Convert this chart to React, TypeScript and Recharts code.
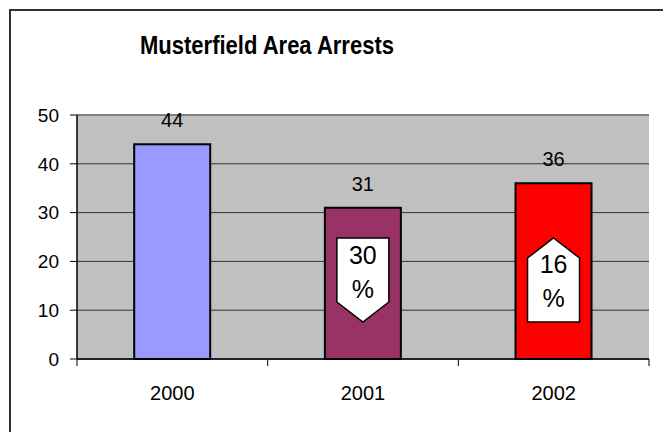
import React from 'react';
import {
  BarChart,
  Bar,
  XAxis,
  YAxis,
  CartesianGrid,
  ReferenceLine,
  LabelList,
  Cell,
  Rectangle,
} from 'recharts';

const years = ['2000', '2001', '2002'];
const arrests = [44, 31, 36];
const changePct: (number | null)[] = [null, 30, 16];
const changeDir: (string | null)[] = [null, 'down', 'up'];
const barColors = ['#9999FF', '#993366', '#FF0000'];
const yTicks = [0, 10, 20, 30, 40, 50];

const data = years.map((year, i) => ({
  year,
  arrests: arrests[i],
  pct: changePct[i],
  dir: changeDir[i],
}));

const FONT = '"Liberation Sans", Arial, sans-serif';

// category label at the centre, tick marks on the category edges (Excel style)
const XTick = (props: any) => {
  const { x, y, payload, index, width, visibleTicksCount } = props;
  const band = width / (visibleTicksCount || years.length);
  const last = index === (visibleTicksCount || years.length) - 1;
  return (
    <g>
      <line x1={x - band / 2} x2={x - band / 2} y1={y} y2={y + 7} stroke="#000" />
      {last && <line x1={x + band / 2} x2={x + band / 2} y1={y} y2={y + 7} stroke="#000" />}
      <text x={x} y={y + 34} textAnchor="middle" dominantBaseline="central" fontSize={20} fontFamily={FONT} fill="#000">
        {payload.value}
      </text>
    </g>
  );
};

// bar + the little arrow-shaped % change callout inside it
const BarWithCallout = (props: any) => {
  const { x, y, width, height, fill, payload } = props;
  const cx = x + width / 2;
  const base = y + height;
  const half = 26;
  let callout = null;
  if (payload && payload.pct != null) {
    let points = '';
    let t1 = 0;
    let t2 = 0;
    if (payload.dir === 'down') {
      points = [
        [cx - half, base - 121],
        [cx + half, base - 121],
        [cx + half, base - 57],
        [cx, base - 37],
        [cx - half, base - 57],
      ]
        .map((p) => p.join(','))
        .join(' ');
      t1 = base - 104;
      t2 = base - 70;
    } else {
      points = [
        [cx, base - 121],
        [cx + half, base - 101],
        [cx + half, base - 37],
        [cx - half, base - 37],
        [cx - half, base - 101],
      ]
        .map((p) => p.join(','))
        .join(' ');
      t1 = base - 95;
      t2 = base - 61;
    }
    callout = (
      <g>
        <polygon points={points} fill="#fff" stroke="#000" strokeWidth={1.5} />
        <text x={cx} y={t1} textAnchor="middle" dominantBaseline="central" fontSize={25} fontFamily={FONT} fill="#000">
          {payload.pct}
        </text>
        <text x={cx} y={t2} textAnchor="middle" dominantBaseline="central" fontSize={25} fontFamily={FONT} fill="#000">
          %
        </text>
      </g>
    );
  }
  return (
    <g>
      <Rectangle x={x} y={y} width={width} height={height} fill={fill} stroke="#000" strokeWidth={2} />
      {callout}
    </g>
  );
};

export default function App() {
  return (
    <div
      style={{
        position: 'absolute',
        left: 0,
        top: 0,
        width: 663,
        height: 432,
        overflow: 'hidden',
        background: '#fff',
      }}
    >
      <div
        style={{
          position: 'absolute',
          left: 9,
          top: 9,
          width: 800,
          height: 600,
          borderLeft: '2px solid #333',
          borderTop: '2px solid #333',
        }}
      />
      <div
        style={{
          position: 'absolute',
          left: 0,
          width: 534,
          top: 28,
          textAlign: 'center',
          fontFamily: FONT,
          fontWeight: 'bold',
          fontSize: 25,
          lineHeight: '34px',
          color: '#000',
          transform: 'scaleX(0.88)',
          transformOrigin: '267px 50%',
        }}
      >
        Musterfield Area Arrests
      </div>
      <div style={{ position: 'absolute', left: 0, top: 0 }}>
        <BarChart
          width={663}
          height={432}
          data={data}
          margin={{ top: 115, right: 14, bottom: 33, left: 17 }}
          barCategoryGap="30%"
        >
          <CartesianGrid vertical={false} stroke="#333" fill="#c0c0c0" fillOpacity={1} />
          <XAxis
            dataKey="year"
            height={40}
            interval={0}
            axisLine={{ stroke: '#000', strokeWidth: 1.5 }}
            tickLine={false}
            tickSize={0}
            tickMargin={0}
            tick={<XTick />}
          />
          <YAxis
            domain={[0, 50]}
            ticks={yTicks}
            width={60}
            axisLine={{ stroke: '#000', strokeWidth: 1.5 }}
            tickLine={{ stroke: '#000' }}
            tickSize={7}
            tickMargin={11}
            tick={{ fill: '#000', fontSize: 19, fontFamily: FONT }}
          />
          <YAxis
            yAxisId="right"
            orientation="right"
            width={0}
            domain={[0, 50]}
            axisLine={{ stroke: '#808080', strokeWidth: 2 }}
            tickLine={false}
            tick={false}
          />
          <ReferenceLine y={50} stroke="#808080" strokeWidth={2} />
          <Bar dataKey="arrests" isAnimationActive={false} shape={<BarWithCallout />}>
            {data.map((d, i) => (
              <Cell key={d.year} fill={barColors[i]} />
            ))}
            <LabelList
              dataKey="arrests"
              position="top"
              offset={17}
              fill="#000"
              fontSize={20}
              fontFamily={FONT}
            />
          </Bar>
        </BarChart>
      </div>
    </div>
  );
}
